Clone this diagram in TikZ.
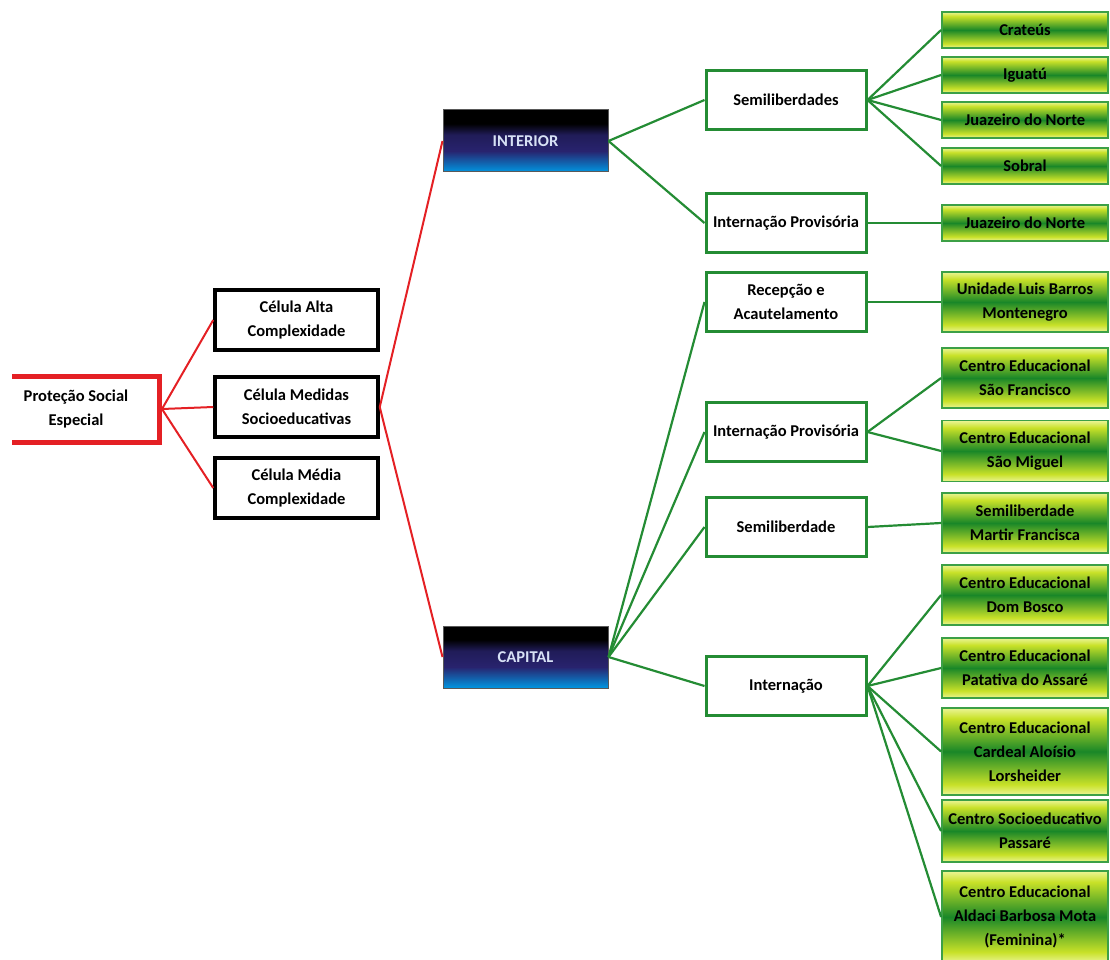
\documentclass[tikz,border=0pt]{standalone}
\usepackage{fontspec}
\setmainfont{Carlito}
\definecolor{redl}{RGB}{228,32,36}
\definecolor{grn}{RGB}{36,140,52}
\definecolor{leafbd}{RGB}{60,160,70}
\definecolor{leaflight}{RGB}{235,245,150}
\definecolor{leaftop}{RGB}{200,225,40}
\definecolor{leafmid}{RGB}{25,135,40}
\definecolor{navy}{RGB}{40,35,110}
\definecolor{brightblue}{RGB}{0,150,225}
\definecolor{captxt}{RGB}{215,225,245}
\pgfdeclareverticalshading{leafsh}{100bp}{color(0bp)=(leaflight); color(25bp)=(leaflight); color(31bp)=(leaftop); color(50bp)=(leafmid); color(69bp)=(leaftop); color(75bp)=(leaflight); color(100bp)=(leaflight)}
\pgfdeclareverticalshading{regsh}{100bp}{color(0bp)=(brightblue); color(25bp)=(brightblue); color(42bp)=(navy); color(55bp)=(navy!80!black); color(64bp)=(black); color(75bp)=(black); color(100bp)=(black)}
\begin{document}
\begin{tikzpicture}[x=1pt,y=-1pt,
  every node/.style={font=\bfseries\fontsize{16.5}{24}\selectfont, align=center, inner sep=2pt},
  cellbox/.style={draw=black, line width=3.5pt, fill=white, minimum width=163pt, minimum height=60pt},
  rootbox/.style={draw=redl, line width=5pt, fill=white, minimum width=175pt, minimum height=66pt},
  regbox/.style={draw=gray!70!black, line width=1pt, shading=regsh, minimum width=165pt, minimum height=62pt, text=captxt},
  midbox/.style={draw=grn, line width=3pt, fill=white, minimum width=160pt, minimum height=59pt},
  leafbox/.style={draw=leafbd, line width=1.8pt, shading=leafsh, minimum width=166pt},
  redline/.style={draw=redl, line width=2pt},
  grnline/.style={draw=grn, line width=2.2pt}
]
\useasboundingbox (0,0) rectangle (1110,960);
\clip (12,0) rectangle (1110,960);

% root and cells
\node[rootbox] (root) at (72,409) {\hspace*{8pt}Proteção Social\\\hspace*{8pt}Especial};
\node[cellbox] (alta) at (296.5,320) {Célula Alta\\Complexidade};
\node[cellbox] (medidas) at (296.5,407) {Célula Medidas\\Socioeducativas};
\node[cellbox] (media) at (296.5,488) {Célula Média\\Complexidade};

% regions
\node[regbox] (interior) at (525.5,141) {INTERIOR};
\node[regbox] (capital) at (525.5,657) {CAPITAL};

% middle boxes
\node[midbox] (semis) at (786,100) {Semiliberdades};
\node[midbox] (ipi) at (786,223) {Internação Provisória};
\node[midbox] (recep) at (786,302) {Recepção e\\Acautelamento};
\node[midbox] (ipc) at (786,432) {Internação Provisória};
\node[midbox] (semi) at (786,527) {Semiliberdade};
\node[midbox] (intern) at (786,686) {Internação};

% leaves
\node[leafbox, minimum height=36pt] (crat) at (1025,30) {Crateús};
\node[leafbox, minimum height=36pt] (igua) at (1025,75) {Iguatú};
\node[leafbox, minimum height=36pt] (juaa) at (1025,120) {Juazeiro do Norte};
\node[leafbox, minimum height=36pt] (sobr) at (1025,166) {Sobral};
\node[leafbox, minimum height=36pt] (juab) at (1025,223) {Juazeiro do Norte};
\node[leafbox, minimum height=60pt] (luis) at (1025,302) {Unidade Luis Barros\\Montenegro};
\node[leafbox, minimum height=60pt] (sfra) at (1025,378) {Centro Educacional\\São Francisco};
\node[leafbox, minimum height=61pt] (smig) at (1025,451) {Centro Educacional\\São Miguel};
\node[leafbox, minimum height=60pt] (mart) at (1025,523) {Semiliberdade\\Martir Francisca};
\node[leafbox, minimum height=60pt] (dbos) at (1025,595) {Centro Educacional\\Dom Bosco};
\node[leafbox, minimum height=60pt] (pata) at (1025,668) {Centro Educacional\\Patativa do Assaré};
\node[leafbox, minimum height=87pt] (card) at (1025,751.5) {Centro Educacional\\Cardeal Aloísio\\Lorsheider};
\node[leafbox, minimum height=62pt] (pass) at (1025,831) {Centro Socioeducativo\\Passaré};
\node[leafbox, minimum height=92pt] (alda) at (1025,917) {Centro Educacional\\Aldaci Barbosa Mota\\(Feminina)*};

% red connectors
\draw[redline] (root.east) -- (alta.west);
\draw[redline] (root.east) -- (medidas.west);
\draw[redline] (root.east) -- (media.west);
\draw[redline] (medidas.east) -- (interior.west);
\draw[redline] (medidas.east) -- (capital.west);

% green connectors
\draw[grnline] (interior.east) -- (semis.west);
\draw[grnline] (interior.east) -- (ipi.west);
\foreach \l in {crat,igua,juaa,sobr} \draw[grnline] (semis.east) -- (\l.west);
\draw[grnline] (ipi.east) -- (juab.west);
\foreach \m in {recep,ipc,semi,intern} \draw[grnline] (capital.east) -- (\m.west);
\draw[grnline] (recep.east) -- (luis.west);
\draw[grnline] (ipc.east) -- (sfra.west);
\draw[grnline] (ipc.east) -- (smig.west);
\draw[grnline] (semi.east) -- (mart.west);
\foreach \l in {dbos,pata,card,pass,alda} \draw[grnline] (intern.east) -- (\l.west);
\end{tikzpicture}
\end{document}
